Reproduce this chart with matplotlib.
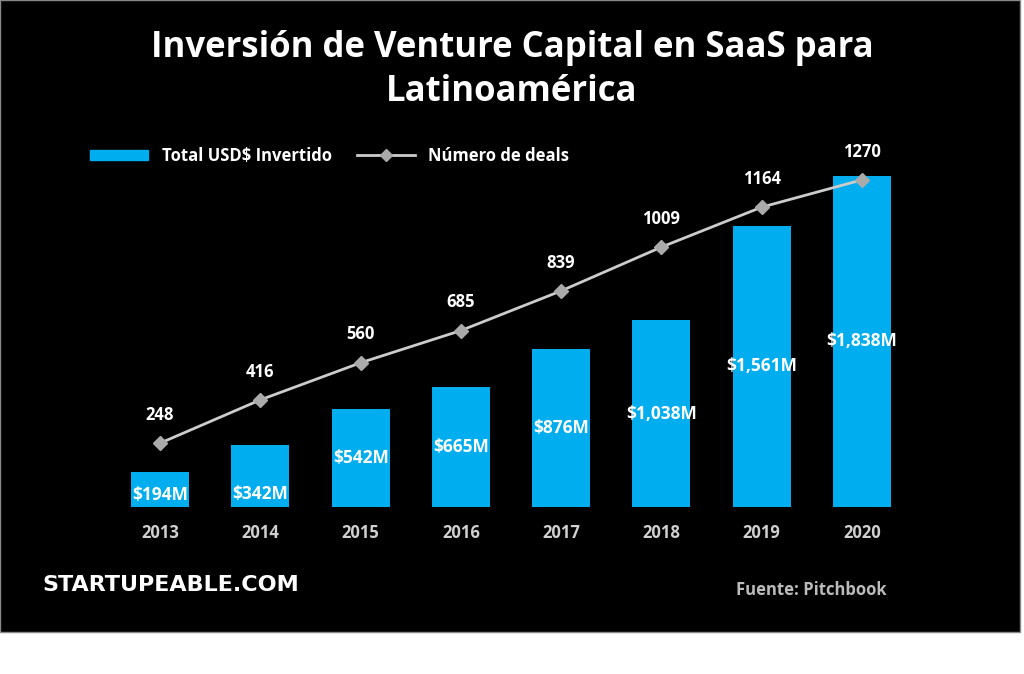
import matplotlib
matplotlib.use("Agg")
import matplotlib.pyplot as plt
from matplotlib.patches import Rectangle
from matplotlib.lines import Line2D

years = ["2013","2014","2015","2016","2017","2018","2019","2020"]
invest = [194,342,542,665,876,1038,1561,1838]
invest_labels = ["$194M","$342M","$542M","$665M","$876M","$1,038M","$1,561M","$1,838M"]
deals = [248,416,560,685,839,1009,1164,1270]

plt.rcParams['font.family'] = ['Open Sans','DejaVu Sans']
fig = plt.figure(figsize=(10.24,6.74), dpi=100, facecolor="white")
fig.patches.append(Rectangle((0,42/674),1020/1024,1-42/674,transform=fig.transFigure,
                             facecolor="black",edgecolor="#888888",lw=1,zorder=-5))

ax = fig.add_axes([100/1024, 167/674, 822/1024, 357/674])
ax.set_facecolor("none")
x = list(range(len(years)))
BLUE = "#00AEEF"
ax.bar(x, invest, width=0.58, color=BLUE, zorder=2)
ax.set_xlim(-0.6, 7.6)
ax.set_ylim(0, 1982)
for xi, v, lab in zip(x, invest, invest_labels):
    ax.text(xi, v/2 if v>400 else v*0.05+5, lab, ha="center", va="center" if v>400 else "bottom",
            color="white", fontsize=12.5, fontweight="bold", zorder=5)
ax.set_xticks(x)
ax.set_xticklabels(years, color="#d0d0d0", fontsize=12, fontweight="bold")
ax.tick_params(length=0, pad=12)
ax.set_yticks([])
for s in ax.spines.values():
    s.set_visible(False)

ax2 = ax.twinx()
ax2.set_ylim(0, 1386)
ax2.plot(x, deals, color="#cccccc", lw=2, marker="D", markersize=7,
         markerfacecolor="#aaaaaa", markeredgecolor="#aaaaaa", zorder=4)
for xi, d in zip(x, deals):
    ax2.text(xi, d+75, str(d), ha="center", va="bottom", color="white",
             fontsize=12, fontweight="bold")
ax2.set_yticks([])
for s in ax2.spines.values():
    s.set_visible(False)

handles = [Rectangle((0,0),1,1,color=BLUE),
           Line2D([0],[0],color="#cccccc",lw=2,marker="D",markersize=6,
                  markerfacecolor="#aaaaaa",markeredgecolor="#aaaaaa")]
leg = fig.legend(handles, ["Total USD$ Invertido","Número de deals"], loc="center left",
                 bbox_to_anchor=(75/1024, 1-156/674), ncol=2, frameon=False,
                 fontsize=12, handlelength=3.5, handleheight=0.6, columnspacing=1.5)
for t in leg.get_texts():
    t.set_color("white"); t.set_fontweight("bold")

fig.text(0.5, 1-70/674, "Inversión de Venture Capital en SaaS para\nLatinoamérica",
         ha="center", va="center", color="white", fontsize=25, fontweight="bold", linespacing=1.3)
fig.text(42/1024, 1-585/674, "STARTUPEABLE.COM", ha="left", va="center", color="white",
         fontsize=16, fontweight="bold", family="DejaVu Sans")
fig.text(887/1024, 1-590/674, "Fuente: Pitchbook", ha="right", va="center", color="#bbbbbb",
         fontsize=12, fontweight="bold")

fig.savefig("out.png", dpi=100, facecolor="white")
